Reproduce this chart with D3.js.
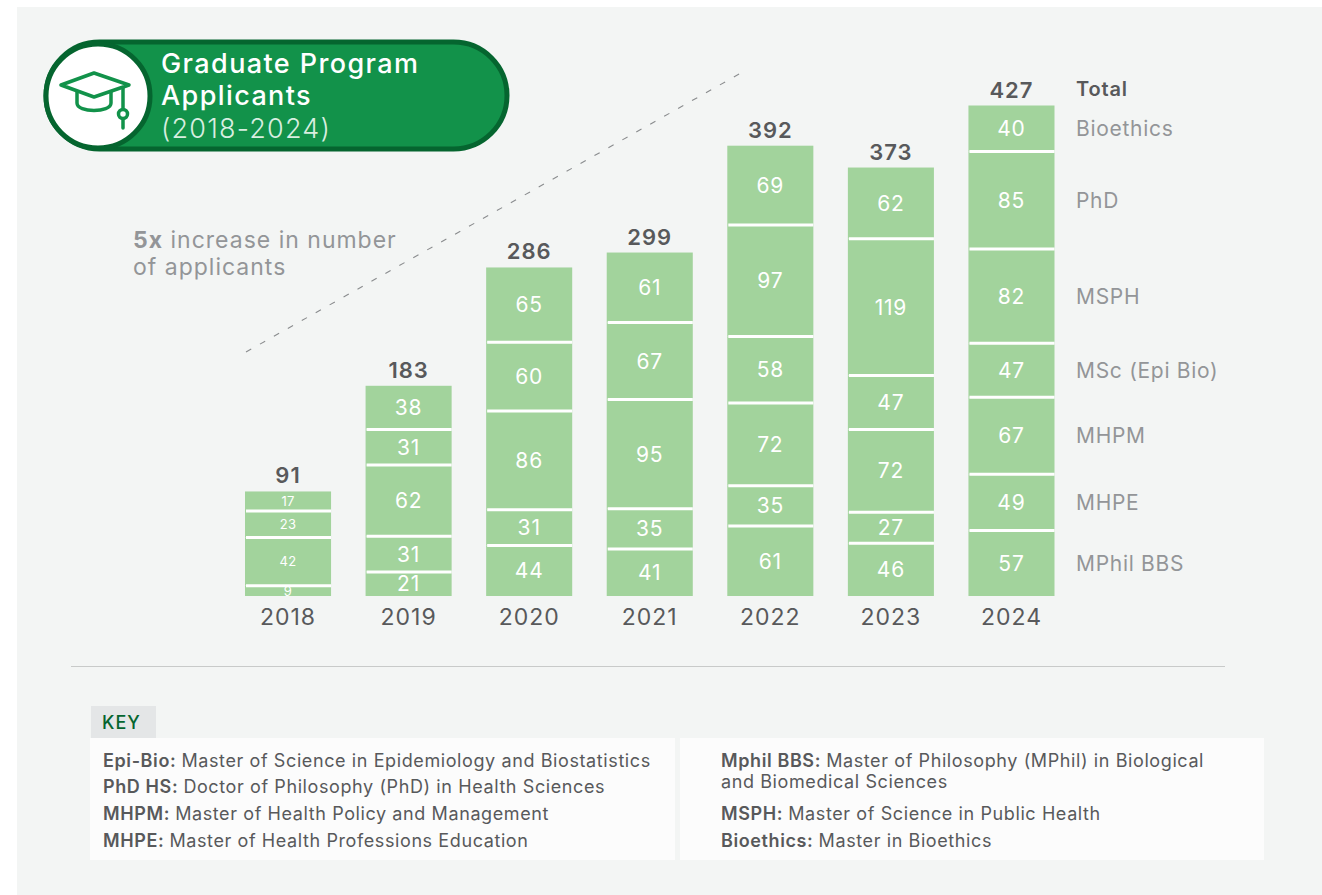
<!DOCTYPE html>
<html><head><meta charset="utf-8">
<script src="https://cdn.jsdelivr.net/npm/d3@7"></script>
<style>
html,body{margin:0;padding:0;background:#fff}
svg{display:block}
text{font-family:"Inter","Noto Sans",sans-serif}
</style></head><body><div id="chart"></div>
<script>
const years=["2018","2019","2020","2021","2022","2023","2024"];
const programs=["MPhil BBS","MHPE","MHPM","MSc (Epi Bio)","MSPH","PhD","Bioethics"];
const mphil=[9,21,44,41,61,46,57];
const mhpe=[42,31,31,35,35,27,49];
const mhpm=[23,62,86,95,72,72,67];
const msc=[17,31,60,67,58,47,47];
const msph=[0,38,65,61,97,119,82];
const phd=[0,0,0,0,69,62,85];
const bioethics=[0,0,0,0,0,0,40];
const totals=[91,183,286,299,392,373,427];
const keyLeft=[["Epi-Bio:","Master of Science in Epidemiology and Biostatistics"],["PhD HS:","Doctor of Philosophy (PhD) in Health Sciences"],["MHPM:","Master of Health Policy and Management"],["MHPE:","Master of Health Professions Education"]];
const keyRight=[["Mphil BBS:","Master of Philosophy (MPhil) in Biological"],["","and Biomedical Sciences"],["MSPH:","Master of Science in Public Health"],["Bioethics:","Master in Bioethics"]];
const seriesVals=[mphil,mhpe,mhpm,msc,msph,phd,bioethics];

const W=1322,H=895;
const svg=d3.select("#chart").append("svg").attr("width",W).attr("height",H);
svg.append("rect").attr("x",17).attr("y",7).attr("width",W-17).attr("height",H-7).attr("fill","#f3f5f4");

const x=d3.scaleBand().domain(years).range([245,1054.5]).paddingInner(0.2863).paddingOuter(0);
const y=d3.scaleLinear().domain([0,427]).range([596,105.5]);
const rows=years.map((yr,i)=>{const r={year:yr};programs.forEach((p,j)=>r[p]=seriesVals[j][i]);return r;});
const stacked=d3.stack().keys(programs)(rows);

// dashed trend line
svg.append("line").attr("x1",246).attr("y1",352).attr("x2",741).attr("y2",73)
 .attr("stroke","#8a8c8e").attr("stroke-width",1.1).attr("stroke-dasharray","6 10");

const g=svg.append("g");
stacked.forEach(s=>{
  s.forEach((d,i)=>{
    if(d[1]===d[0])return;
    const yr=years[i];
    g.append("rect").attr("x",x(yr)).attr("width",x.bandwidth())
      .attr("y",y(d[1])).attr("height",y(d[0])-y(d[1])).attr("fill","#a2d39c");
    if(d[0]>0) g.append("line").attr("x1",x(yr)+1).attr("x2",x(yr)+x.bandwidth())
      .attr("y1",y(d[0])).attr("y2",y(d[0])).attr("stroke","#fff").attr("stroke-width",3);
  });
});
stacked.forEach(s=>{
  s.forEach((d,i)=>{
    if(d[1]===d[0])return;
    const yr=years[i];
    g.append("text").attr("x",x(yr)+x.bandwidth()/2).attr("y",(y(d[0])+y(d[1]))/2)
      .attr("dy","0.36em").attr("text-anchor","middle").attr("fill","#fff")
      .attr("font-size",i===0?13:21).attr("letter-spacing",i===0?0.3:0.8).text(d[1]-d[0]);
  });
});
// totals
g.selectAll(".tot").data(years).join("text")
  .attr("x",d=>x(d)+x.bandwidth()/2).attr("y",(d,i)=>y(totals[i])-8)
  .attr("text-anchor","middle").attr("font-size",22).attr("font-weight",600).attr("letter-spacing",1).attr("fill","#58595b")
  .text((d,i)=>totals[i]);
// axis
const axis=svg.append("g").attr("transform","translate(0,596)").call(d3.axisBottom(x).tickSize(0).tickPadding(13));
axis.select(".domain").remove();
axis.selectAll("text").attr("font-size",23).attr("letter-spacing",1).attr("fill","#58595b").style("font-family",'"Inter","Noto Sans",sans-serif');
// right labels
const lx=1076;
svg.append("text").attr("x",lx).attr("y",96).attr("font-size",20).attr("font-weight",600).attr("letter-spacing",0.8).attr("fill","#58595b").text("Total");
stacked.forEach((s,j)=>{const d=s[6];
  svg.append("text").attr("x",lx).attr("y",(y(d[0])+y(d[1]))/2).attr("dy","0.36em")
   .attr("font-size",21).attr("letter-spacing",0.7).attr("fill","#939598").text(programs[j]);});
// annotation
const ann=svg.append("g").attr("font-size",23).attr("letter-spacing",1).attr("fill","#939598");
const a1=ann.append("text").attr("x",133).attr("y",248);
a1.append("tspan").attr("font-weight",700).text("5x");
a1.append("tspan").text(" increase in number");
ann.append("text").attr("x",133).attr("y",275).text("of applicants");

// badge
svg.append("rect").attr("x",46).attr("y",42).attr("width",461).attr("height",107).attr("rx",53.5)
  .attr("fill","#12924a").attr("stroke","#05652f").attr("stroke-width",5);
svg.append("circle").attr("cx",98).attr("cy",96).attr("r",52).attr("fill","#fff").attr("stroke","#05652f").attr("stroke-width",5);
const ic=svg.append("g").attr("fill","none").attr("stroke","#12924a").attr("stroke-width",3.5).attr("stroke-linejoin","round").attr("stroke-linecap","round");
ic.append("path").attr("d",d3.line()([[61,85],[94,73],[129,85],[94,97],[61,85]]));
ic.append("path").attr("d","M77 92V103C77 113 111 113 111 103V92");
ic.append("path").attr("d","M123 88V109M123 119V128");
ic.append("circle").attr("cx",123).attr("cy",114).attr("r",4.5);
const tt=svg.append("g").attr("fill","#fff").attr("font-size",27);
tt.append("text").attr("x",161).attr("y",73).attr("font-weight",500).attr("letter-spacing",1.4).text("Graduate Program");
tt.append("text").attr("x",161).attr("y",105).attr("font-weight",500).attr("letter-spacing",1.4).text("Applicants");
tt.append("text").attr("x",161).attr("y",138).attr("font-weight",300).attr("letter-spacing",1.2).attr("fill","#d8eee0").text("(2018-2024)");

// separator
svg.append("line").attr("x1",71).attr("x2",1225).attr("y1",666.5).attr("y2",666.5).attr("stroke","#c8cac9");
// key
svg.append("rect").attr("x",91).attr("y",706).attr("width",65).attr("height",33).attr("fill","#e4e6e7");
svg.append("text").attr("x",102).attr("y",729).attr("font-size",18).attr("font-weight",500).attr("letter-spacing",1).attr("fill","#05652f").text("KEY");
svg.append("rect").attr("x",90).attr("y",738).attr("width",585).attr("height",122).attr("fill","#fcfcfc");
svg.append("rect").attr("x",680).attr("y",738).attr("width",584).attr("height",122).attr("fill","#fcfcfc");
function keyRows(list,xp,ys){list.forEach((r,i)=>{
  const t=svg.append("text").attr("x",xp).attr("y",ys[i]).attr("font-size",18).attr("letter-spacing",0.6).attr("fill","#58595b");
  if(r[0]) t.append("tspan").attr("font-weight",600).text(r[0]+" ");
  t.append("tspan").text(r[1]);
});}
keyRows(keyLeft,103,[767,793,820,847]);
keyRows(keyRight,721,[767,788,820,847]);
</script></body></html>
